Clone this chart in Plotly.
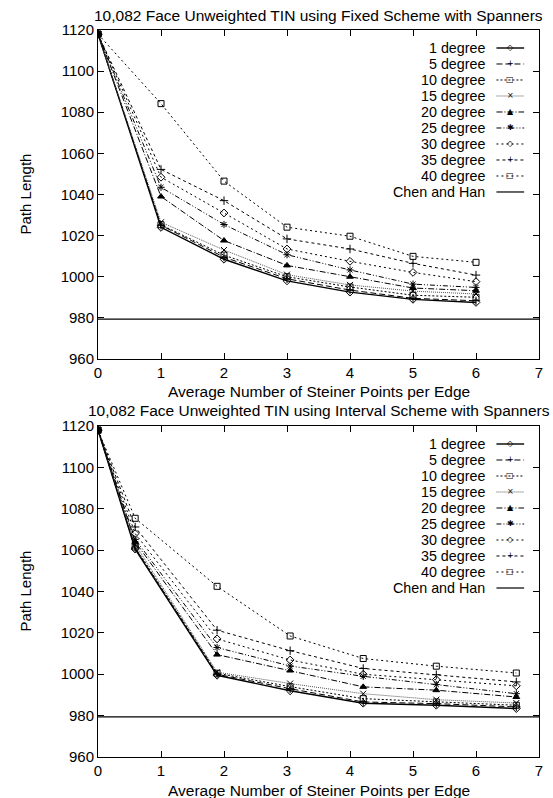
import plotly.graph_objects as go

# ---------------- data ----------------
series_names = ["1 degree", "5 degree", "10 degree", "15 degree", "20 degree",
                "25 degree", "30 degree", "35 degree", "40 degree"]

fixed_x = [0, 1, 2, 3, 4, 5, 6]
fixed_1deg = [1118, 1024.0, 1008.5, 998.0, 992.5, 989.0, 987.5]
fixed_5deg = [1118, 1025.0, 1009.5, 999.0, 993.5, 989.5, 988.3]
fixed_10deg = [1118, 1025.3, 1010.5, 1000.0, 995.0, 991.0, 990.0]
fixed_15deg = [1118, 1026.5, 1013.0, 1001.0, 996.0, 993.0, 991.6]
fixed_20deg = [1118, 1039.0, 1017.6, 1005.5, 1000.0, 994.5, 993.2]
fixed_25deg = [1118, 1043.5, 1025.4, 1010.7, 1003.3, 996.4, 994.8]
fixed_30deg = [1118, 1048.4, 1031.0, 1013.5, 1007.5, 1002.1, 997.6]
fixed_35deg = [1118, 1052.2, 1037.0, 1018.4, 1013.5, 1006.5, 1000.8]
fixed_40deg = [1118, 1084.2, 1046.5, 1024.1, 1019.7, 1009.9, 1007.0]

interval_x = [0, 0.59, 1.89, 3.05, 4.21, 5.37, 6.64]
interval_1deg = [1118, 1060.5, 999.5, 992.0, 986.0, 985.0, 983.4]
interval_5deg = [1118, 1061.0, 1000.0, 993.0, 986.6, 985.8, 984.2]
interval_10deg = [1118, 1061.5, 1000.5, 994.0, 988.2, 986.6, 985.0]
interval_15deg = [1118, 1062.8, 1001.0, 995.5, 990.6, 987.7, 986.1]
interval_20deg = [1118, 1064.0, 1009.5, 1001.8, 993.9, 992.3, 989.0]
interval_25deg = [1118, 1065.2, 1012.9, 1004.0, 999.0, 995.0, 990.6]
interval_30deg = [1118, 1068.0, 1017.1, 1006.9, 1000.0, 997.4, 994.4]
interval_35deg = [1118, 1071.2, 1021.3, 1011.4, 1002.8, 999.8, 996.3]
interval_40deg = [1118, 1075.4, 1042.5, 1018.5, 1007.6, 1003.9, 1000.6]

chen_han_x = [0, 7]
chen_han_value = 979.4

x_ticks = [0, 1, 2, 3, 4, 5, 6, 7]
y_ticks = [960, 980, 1000, 1020, 1040, 1060, 1080, 1100, 1120]

titles = ["10,082 Face Unweighted TIN using Fixed Scheme with Spanners",
          "10,082 Face Unweighted TIN using Interval Scheme with Spanners"]
x_title = "Average Number of Steiner Points per Edge"
y_title = "Path Length"

fixed_series = [fixed_1deg, fixed_5deg, fixed_10deg, fixed_15deg, fixed_20deg,
                fixed_25deg, fixed_30deg, fixed_35deg, fixed_40deg]
interval_series = [interval_1deg, interval_5deg, interval_10deg, interval_15deg,
                   interval_20deg, interval_25deg, interval_30deg, interval_35deg,
                   interval_40deg]

# ---------------- styles ----------------
FONT = "Liberation Sans, Arial, sans-serif"
styles = [
    dict(dash="solid", symbol="diamond-open", color="black", width=1.4, glyph="◇"),
    dict(dash="6px,3px", symbol="cross-thin-open", color="black", width=1, glyph="+"),
    dict(dash="2px,2px", symbol="square-open", color="black", width=1, glyph="□"),
    dict(dash="1px,1px", symbol="x-thin-open", color="#555555", width=1, glyph="×"),
    dict(dash="6px,2px,1px,2px", symbol="triangle-up", color="black", width=1, glyph="▲"),
    dict(dash="5px,2px,1px,2px,1px,2px", symbol="asterisk-open", color="black", width=1, glyph="✱"),
    dict(dash="2px,3px", symbol="diamond-open", color="black", width=1, glyph="◇"),
    dict(dash="3px,3px", symbol="cross-thin-open", color="black", width=1, glyph="+"),
    dict(dash="2px,3px", symbol="square-open", color="black", width=1, glyph="□"),
]

fig = go.Figure()

panels = [("x", "y", fixed_x, fixed_series), ("x2", "y2", interval_x, interval_series)]
for xa, ya, xs, series in panels:
    for name, ys, st in zip(series_names, series, styles):
        fig.add_trace(go.Scatter(
            x=xs, y=ys, name=name, xaxis=xa, yaxis=ya, mode="lines+markers",
            line=dict(color=st["color"], width=st["width"], dash=st["dash"]),
            marker=dict(symbol=st["symbol"], size=6, color="black",
                        line=dict(color="black", width=1)),
            showlegend=False))
    fig.add_trace(go.Scatter(
        x=chen_han_x, y=[chen_han_value] * len(chen_han_x), name="Chen and Han",
        xaxis=xa, yaxis=ya, mode="lines", line=dict(color="black", width=1.2),
        showlegend=False))

axis_common = dict(showline=True, linecolor="black", linewidth=1, mirror="ticks",
                   ticks="inside", ticklen=6, tickcolor="black", showgrid=False,
                   zeroline=False, tickfont=dict(size=15, color="black", family=FONT))

fig.update_layout(
    width=553, height=798,
    margin=dict(l=98, r=10, t=30, b=41),
    paper_bgcolor="white", plot_bgcolor="white",
    font=dict(family=FONT, size=15, color="black"),
    xaxis=dict(domain=[0, 1], anchor="y", range=[0, 7], tickvals=x_ticks, **axis_common),
    yaxis=dict(domain=[0.5475, 1], anchor="x", range=[960, 1120], tickvals=y_ticks, **axis_common),
    xaxis2=dict(domain=[0, 1], anchor="y2", range=[0, 7], tickvals=x_ticks, **axis_common),
    yaxis2=dict(domain=[0, 0.4553], anchor="x2", range=[960, 1120], tickvals=y_ticks, **axis_common),
)

annotations = []
shapes = []
legend_names = series_names + ["Chen and Han"]
legend_styles = styles + [dict(dash="solid", color="black", width=1.2, glyph="")]
plot_h = [329.0, 331.0]
for i, (xa, ya) in enumerate([("x", "y"), ("x2", "y2")]):
    xd = xa + " domain"
    yd = ya + " domain"
    annotations.append(dict(text=titles[i], xref=xd, yref=yd, x=0.5, y=1,
                            xanchor="center", yanchor="middle", yshift=15,
                            showarrow=False, font=dict(size=15.5, family=FONT)))
    annotations.append(dict(text=x_title, xref=xd, yref=yd, x=0.5, y=0,
                            xanchor="center", yanchor="middle", yshift=-33,
                            showarrow=False, font=dict(size=15.5, family=FONT)))
    annotations.append(dict(text=y_title, xref=xd, yref=yd, x=0, y=0.5,
                            xanchor="center", yanchor="middle", xshift=-73,
                            textangle=-90, showarrow=False,
                            font=dict(size=15, family=FONT)))
    for k, (nm, st) in enumerate(zip(legend_names, legend_styles)):
        off = 18 + k * 16
        yy = 1 - off / plot_h[i]
        annotations.append(dict(text=nm, xref=xd, yref=yd, x=0.8806, y=yy,
                                xanchor="right", yanchor="middle", showarrow=False,
                                borderpad=0,
                                font=dict(size=14.3, family=FONT)))
        shapes.append(dict(type="line", xref=xd, yref=yd, x0=0.9035, x1=0.9663,
                           y0=yy, y1=yy,
                           line=dict(color=st["color"], width=st["width"], dash=st["dash"])))
        if st["glyph"]:
            annotations.append(dict(text=st["glyph"], xref=xd, yref=yd, x=0.935, y=yy,
                                    xanchor="center", yanchor="middle", showarrow=False,
                                    borderpad=0,
                                    font=dict(size=8, family="DejaVu Sans", color="black")))

fig.update_layout(annotations=annotations, shapes=shapes)
fig.write_html("out.html")
